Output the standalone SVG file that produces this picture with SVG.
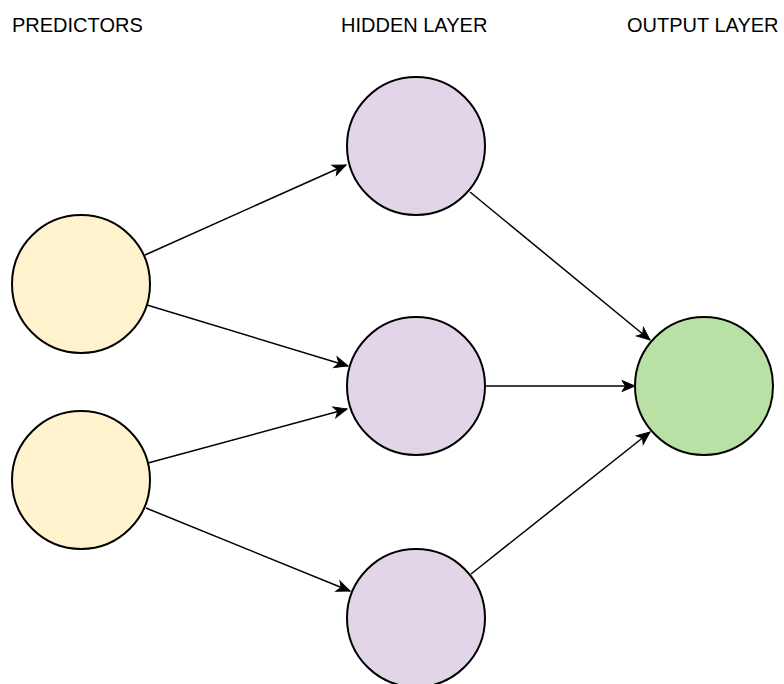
<svg xmlns="http://www.w3.org/2000/svg" width="784" height="684" viewBox="0 0 784 684">
<defs>
<style>
.lbl{font-family:"Liberation Sans",Arial,sans-serif;font-size:20px;fill:#000}
.pred{fill:#fff2cc;stroke:#000;stroke-width:2}
.hid{fill:#e1d5e7;stroke:#000;stroke-width:2}
.out{fill:#b9e0a5;stroke:#000;stroke-width:2}
.edge{stroke:#000;stroke-width:1.5;fill:none;marker-end:url(#arr)}
</style>
<marker id="arr" markerUnits="userSpaceOnUse" markerWidth="14" markerHeight="12" refX="13" refY="5.5" orient="auto" overflow="visible">
<path d="M0,0 L13,5.5 L0,11 L3.5,5.5 Z" fill="#000" stroke="#000" stroke-width="1"/>
</marker>
</defs>
<rect width="784" height="684" fill="#fff"/>
<text class="lbl" x="12" y="32">PREDICTORS</text>
<text class="lbl" x="341" y="32">HIDDEN LAYER</text>
<text class="lbl" x="627" y="32">OUTPUT LAYER</text>
<g id="connectors">
<line class="edge" x1="145" y1="255" x2="346" y2="165"/>
<line class="edge" x1="147" y1="305" x2="348" y2="366"/>
<line class="edge" x1="148" y1="463" x2="347" y2="409"/>
<line class="edge" x1="146" y1="508" x2="350" y2="591"/>
<line class="edge" x1="470" y1="192" x2="650" y2="340"/>
<line class="edge" x1="486" y1="386" x2="635" y2="386"/>
<line class="edge" x1="471" y1="574" x2="650" y2="432"/>
</g>
<g id="p1"><circle class="pred" cx="81" cy="284" r="69"/></g>
<g id="p2"><circle class="pred" cx="81" cy="480" r="69"/></g>
<g id="h1"><circle class="hid" cx="416" cy="146" r="69"/></g>
<g id="h2"><circle class="hid" cx="416" cy="386" r="69"/></g>
<g id="h3"><circle class="hid" cx="416" cy="618" r="69"/></g>
<g id="o1"><circle class="out" cx="704" cy="386" r="69"/></g>
</svg>
